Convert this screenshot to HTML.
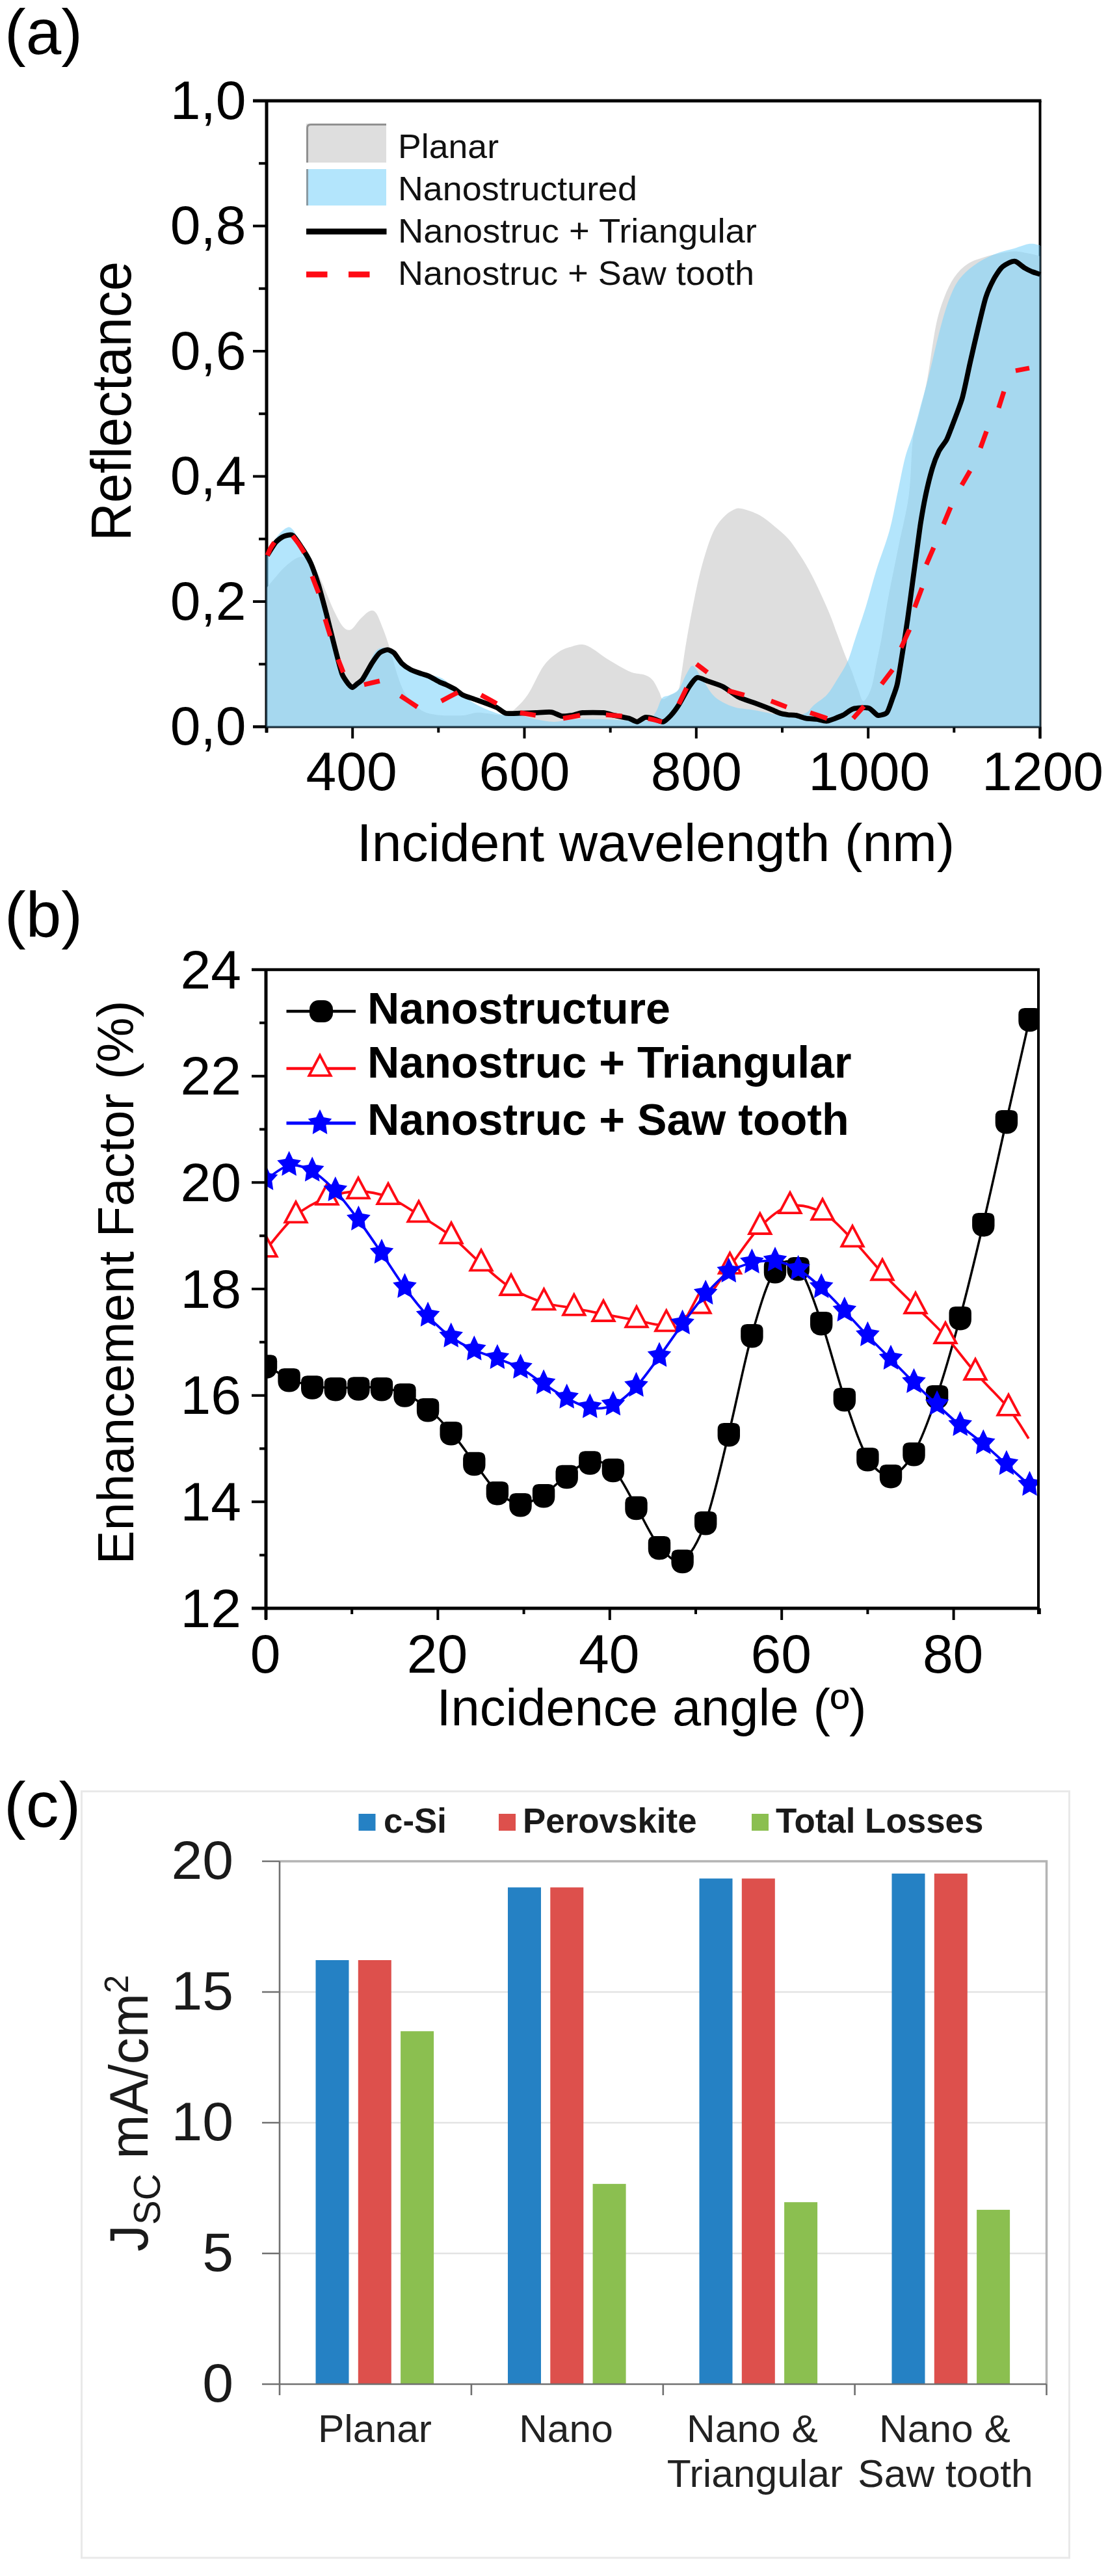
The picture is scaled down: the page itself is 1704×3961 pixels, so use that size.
<!DOCTYPE html>
<html lang="en">
<head>
<meta charset="utf-8">
<title>Figure: reflectance, enhancement factor and Jsc</title>
<style>
html,body{margin:0;padding:0;background:#fff;}
body{width:1704px;height:3961px;overflow:hidden;}
svg{display:block;font-family:"Liberation Sans",sans-serif;}
</style>
</head>
<body>
<svg width="1704" height="3961" viewBox="0 0 1704 3961">
<rect width="1704" height="3961" fill="#fff"/>
<g id="chart-a">
<clipPath id="clipA"><rect x="410" y="155" width="1189.5" height="963.5"/></clipPath>
<path d="M389 155H1601.5" stroke="#000" stroke-width="5" fill="none"/>
<path d="M410 155V1126.5" stroke="#000" stroke-width="5" fill="none"/>
<path d="M1599.5 155V1135.5" stroke="#000" stroke-width="4" fill="none"/>
<path d="M389 1117.5H1599.5" stroke="#000" stroke-width="4" fill="none"/>
<path d="M389 1117.5H410M398 1021.2H410M389 925H410M398 828.8H410M389 732.5H410M398 636.2H410M389 540H410M398 443.8H410M389 347.5H410M398 251.2H410M389 155H410M410 1117.5V1126.5M542.2 1117.5V1135.5M674.3 1117.5V1126.5M806.5 1117.5V1135.5M938.7 1117.5V1126.5M1070.8 1117.5V1135.5M1203 1117.5V1126.5M1335.2 1117.5V1135.5M1467.3 1117.5V1126.5M1599.5 1117.5V1135.5" stroke="#000" stroke-width="4" fill="none"/>
<g clip-path="url(#clipA)">
<path d="M410 904C412.3 901.2 419 892.8 424 887.2C429 881.5 434 875 440 870C446 864.9 454 858.1 460 856.8C466 855.4 471 857.4 476 862C481 866.5 485.6 875.6 490 884C494.3 892.3 498 902.6 502 911.9C506 921.3 509.6 931.3 514 939.9C518.3 948.6 523.6 959.3 527.9 963.9C532.3 968.6 535.6 969.9 539.9 967.9C544.3 965.9 549.3 956.6 553.9 951.9C558.6 947.3 563.9 941.6 567.9 939.9C571.9 938.3 574.6 937.9 577.9 941.9C581.3 945.9 584.6 955.6 587.9 963.9C591.3 972.3 593.9 979.3 597.9 991.9C601.9 1004.6 607.6 1027.2 611.9 1039.9C616.2 1052.6 619.2 1060.2 623.9 1067.9C628.6 1075.5 634.6 1081.2 639.9 1085.9C645.2 1090.5 649.2 1093.5 655.9 1095.9C662.6 1098.2 670.6 1099.2 679.9 1099.9C689.2 1100.5 703.2 1100.5 711.9 1099.9C720.5 1099.2 725.9 1096.4 731.9 1095.9C737.9 1095.3 740.5 1096 747.9 1096.7C755.2 1097.3 768.9 1100.7 775.8 1099.9C782.8 1099.1 783.8 1097.2 789.8 1091.9C795.8 1086.5 804.1 1079.2 811.8 1067.9C819.5 1056.6 828 1034.9 836 1023.9C844 1012.9 852.6 1006.9 860 1001.9C867.3 996.9 874 995.7 880 993.9C886 992.1 890.6 990.4 896 991.1C901.3 991.8 906 994.4 912 997.9C918 1001.4 925.3 1007.6 931.9 1011.9C938.6 1016.2 945.3 1020.2 951.9 1023.9C958.6 1027.6 965.3 1031.6 971.9 1033.9C978.6 1036.2 986.6 1035.9 991.9 1037.9C997.3 1039.9 1000.3 1041.6 1003.9 1045.9C1007.6 1050.2 1011.4 1059 1013.9 1063.9C1016.4 1068.8 1016.4 1074.1 1019.1 1075.1C1021.8 1076 1025.9 1071.9 1029.9 1069.5C1033.9 1067.1 1040.1 1066.3 1043.1 1060.7C1046.1 1055.1 1045.8 1048.7 1048 1035.9C1050.1 1023.1 1052.6 1003.2 1056 983.9C1059.3 964.6 1064 939.3 1068 919.9C1072 900.6 1075.3 884.6 1080 868C1084.6 851.3 1090.6 832 1096 820C1101.3 808 1106.6 802 1112 796C1117.3 790 1123.3 786.3 1127.9 784C1132.6 781.7 1133.3 780.7 1139.9 782C1146.6 783.3 1159.3 787.3 1167.9 792C1176.6 796.7 1184.6 804 1191.9 810C1199.3 816 1205.9 821.3 1211.9 828C1217.9 834.6 1222.6 842 1227.9 850C1233.2 858 1238.6 866.3 1243.9 876C1249.2 885.6 1254.6 896.6 1259.9 907.9C1265.2 919.3 1271.2 932.6 1275.9 943.9C1280.6 955.3 1283.9 965.3 1287.9 975.9C1291.9 986.6 1296.2 998.6 1299.9 1007.9C1303.5 1017.2 1306.5 1023.2 1309.9 1031.9C1313.2 1040.6 1316.9 1052.2 1319.9 1059.9C1322.9 1067.5 1324.5 1078.2 1327.9 1077.9C1331.2 1077.5 1336.6 1067.6 1339.9 1057.9C1343.3 1048.2 1345.3 1032.9 1347.9 1019.9C1350.6 1006.9 1352.9 996.6 1355.9 979.9C1358.9 963.3 1361.6 943.3 1365.9 919.9C1370.3 896.6 1376.6 866.6 1381.9 840C1387.3 813.3 1394.3 787.3 1397.9 760C1401.6 732.7 1401.3 696.6 1403.9 676C1406.6 655.3 1410.2 651.3 1413.9 636C1417.6 620.6 1421.7 606.3 1425.9 584C1430.1 561.7 1434.8 522.9 1439.1 501.9C1443.4 480.9 1447.1 470.6 1451.9 457.9C1456.7 445.3 1461.9 434.6 1467.9 426C1473.9 417.3 1480.6 411 1487.9 406C1495.2 401 1503.9 398.6 1511.9 396C1519.9 393.3 1527.9 391.6 1535.9 390C1543.9 388.4 1551.9 386.4 1559.9 386.4C1567.9 386.4 1577.2 388.7 1583.8 390C1590.5 391.2 1596.9 393.3 1599.5 394L1599.5 1117.5 L410 1117.5 Z" fill="#dedede"/>
<path d="M410 856C412.3 851.3 419 835.3 424 828C429 820.7 435.7 814.3 440 812C444.3 809.7 446 809.7 450 814C454 818.3 459.3 829.6 464 838C468.6 846.3 473.6 854 478 864C482.3 874 486 885 490 898C494 910.9 498 926.6 502 941.9C506 957.3 510 974.6 514 989.9C518 1005.2 521.6 1022.6 525.9 1033.9C530.3 1045.2 534.3 1057.6 539.9 1057.9C545.6 1058.2 553.9 1044.9 559.9 1035.9C565.9 1026.9 571.3 1010.6 575.9 1003.9C580.6 997.2 583.9 996.6 587.9 995.9C591.9 995.2 595.3 995.9 599.9 999.9C604.6 1003.9 610.6 1015.1 615.9 1019.9C621.2 1024.7 626.6 1026.2 631.9 1028.7C637.2 1031.2 639.9 1032.7 647.9 1035.1C655.9 1037.5 670.6 1038.3 679.9 1043.1C689.2 1047.9 693.9 1056.6 703.9 1063.9C713.9 1071.2 727.9 1081.1 739.9 1087.1C751.9 1093.1 765.9 1097.7 775.8 1099.9C785.8 1102 791.8 1098.9 799.8 1099.9C807.9 1100.9 815.3 1104.2 824 1105.9C832.7 1107.5 842.6 1109.9 852 1109.9C861.3 1109.9 867.3 1106.5 880 1105.9C892.6 1105.2 909.3 1105.5 927.9 1105.9C946.6 1106.2 978.6 1109.5 991.9 1107.9C1005.3 1106.2 1003.6 1101.5 1007.9 1095.9C1012.2 1090.2 1014.2 1078.4 1017.9 1073.9C1021.6 1069.4 1025.6 1071 1029.9 1068.7C1034.2 1066.4 1039.6 1065.4 1043.9 1059.9C1048.2 1054.4 1052.2 1041.9 1055.9 1035.9C1059.6 1029.9 1061.9 1022.6 1065.9 1023.9C1069.9 1025.2 1074.9 1036.6 1079.9 1043.9C1084.9 1051.2 1090.6 1061.9 1095.9 1067.9C1101.2 1073.9 1105.9 1076.5 1111.9 1079.9C1117.9 1083.2 1123.9 1085.9 1131.9 1087.9C1139.9 1089.9 1148.5 1089.9 1159.9 1091.9C1171.2 1093.9 1189.8 1098.2 1199.8 1099.9C1209.9 1101.5 1213.3 1102.5 1220 1101.9C1226.7 1101.2 1234.7 1098.9 1240 1095.9C1245.3 1092.9 1246.6 1088.5 1252 1083.9C1257.3 1079.2 1266 1074.5 1272 1067.9C1278 1061.2 1282.6 1052.6 1288 1043.9C1293.3 1035.2 1299.3 1026.6 1304 1015.9C1308.6 1005.2 1311.3 993.9 1316 979.9C1320.6 965.9 1326.6 949.3 1331.9 931.9C1337.3 914.6 1341.9 895.3 1347.9 876C1353.9 856.6 1362.6 835.2 1367.9 815.9C1373.3 796.6 1375.9 778.6 1379.9 759.9C1383.9 741.3 1387.9 719.3 1391.9 703.9C1395.9 688.6 1399.9 681.3 1403.9 668C1407.9 654.6 1411.9 638.6 1415.9 624C1419.9 609.3 1422.6 601 1427.9 580C1433.2 559 1441.9 519.6 1447.9 497.9C1453.9 476.3 1458.6 462.3 1463.9 450C1469.2 437.6 1473.2 431.6 1479.9 424C1486.6 416.3 1495.2 409.6 1503.9 404C1512.5 398.3 1522.5 393.6 1531.9 390C1541.2 386.3 1551.2 384.5 1559.9 382C1568.5 379.4 1577.2 375.6 1583.8 374.8C1590.5 374 1596.9 376.8 1599.5 377.2L1599.5 1117.5 L410 1117.5 Z" fill="#80d3fa" fill-opacity="0.6"/>
</g>
<path d="M410 854V1117.5" stroke="#1c3a4a" stroke-width="2.5" fill="none" opacity="0.85"/>
<path d="M410 1117.5H1599.5" stroke="#1c3a4a" stroke-width="2.5" fill="none" opacity="0.85"/>
<path d="M1599.5 378V1117.5" stroke="#1c3a4a" stroke-width="2.5" fill="none" opacity="0.85"/>
<path d="M411 854C412.4 851.8 421.3 837.1 424 834C426.7 830.9 433.2 825.9 436 824.8C438.8 823.6 447 821.3 450 823.2C453 825 461 837.4 464 842C467 846.5 475.2 859.8 478 866C480.7 872.1 487.4 891.6 490 900C492.5 908.3 499.4 934.1 502 943.9C504.5 953.7 511.4 982.1 514 991.9C516.5 1001.7 523.6 1029.5 525.9 1035.9C528.3 1042.3 534.2 1049.6 535.9 1051.9C537.7 1054.2 540.6 1057.1 541.9 1057.1C543.3 1057.1 547 1053.3 548.7 1051.9C550.4 1050.5 555.5 1047.3 557.9 1043.9C560.4 1040.5 569.2 1024.2 571.9 1019.9C574.7 1015.6 581.4 1006.1 583.9 1003.9C586.5 1001.7 593.6 999.1 595.9 999.1C598.3 999.1 603.6 1001.7 605.9 1003.9C608.3 1006.1 615.1 1017.1 617.9 1019.9C620.7 1022.7 628.7 1028.2 631.9 1029.9C635.1 1031.6 644.9 1034.8 647.9 1035.9C650.9 1037 656.9 1038.5 659.9 1039.9C662.9 1041.3 673.1 1047.3 675.9 1048.7C678.7 1050.1 683.3 1051.5 685.9 1052.7C688.4 1053.9 697.1 1058.2 699.9 1059.9C702.7 1061.6 708.5 1067 711.9 1068.7C715.3 1070.4 727.6 1074.3 731.9 1075.9C736.1 1077.4 748.4 1081.8 751.9 1083.1C755.3 1084.4 761.1 1086.4 763.9 1087.9C766.6 1089.3 774 1095.7 777.8 1096.7C781.7 1097.6 794.9 1096.8 799.8 1096.7C804.8 1096.6 818.9 1096 824 1095.9C829.1 1095.7 843.7 1094.5 848 1095.1C852.2 1095.6 860.6 1100.6 864 1101.1C867.4 1101.6 876.6 1100.4 880 1099.9C883.4 1099.3 890.8 1096.3 896 1095.9C901.1 1095.4 922.8 1095.4 927.9 1095.9C933.1 1096.3 940.5 1099.1 943.9 1099.9C947.4 1100.6 957.4 1102.6 959.9 1103.1C962.5 1103.6 965.8 1103.9 967.9 1104.7C970.1 1105.4 977.4 1110 979.9 1109.9C982.5 1109.7 989.4 1103.6 991.9 1103.1C994.5 1102.5 1000.9 1103.9 1003.9 1104.7C1006.9 1105.4 1016.9 1110.4 1019.9 1109.9C1022.9 1109.4 1029.3 1102.6 1031.9 1099.9C1034.5 1097.1 1040.9 1088.6 1043.9 1083.9C1046.9 1079.2 1056.9 1060.4 1059.9 1055.9C1062.9 1051.4 1068.9 1042.8 1071.9 1041.9C1074.9 1041 1083.6 1045.6 1087.9 1047.1C1092.1 1048.6 1106.8 1053.2 1111.9 1055.9C1117 1058.5 1130.7 1069.2 1135.9 1071.9C1141 1074.5 1154.7 1078.8 1159.9 1080.7C1165 1082.6 1179.6 1088.2 1183.8 1089.9C1188.1 1091.6 1196.8 1095.7 1199.8 1096.7C1202.8 1097.7 1209.4 1098.7 1212 1099.1C1214.6 1099.4 1221 1099.3 1224 1099.9C1227 1100.5 1236.6 1104 1240 1104.7C1243.4 1105.3 1252.6 1105.4 1256 1105.9C1259.4 1106.3 1267.7 1109.3 1272 1108.7C1276.2 1108 1291.7 1101.9 1296 1099.9C1300.2 1097.9 1307.7 1091.1 1312 1089.9C1316.2 1088.7 1331.9 1087.6 1335.9 1088.7C1340 1089.7 1347 1099.1 1349.9 1099.9C1352.9 1100.6 1361.6 1098.4 1363.9 1095.9C1366.3 1093.3 1370.2 1080.6 1371.9 1075.9C1373.6 1071.2 1378.2 1059.6 1379.9 1051.9C1381.6 1044.2 1386.2 1014.6 1387.9 1003.9C1389.6 993.2 1394.2 963.9 1395.9 951.9C1397.6 940 1402.4 903.1 1403.9 892C1405.4 880.9 1408.6 857.3 1409.9 847.9C1411.2 838.5 1414.4 813.3 1415.9 803.9C1417.4 794.5 1422 768.9 1423.9 759.9C1425.8 751 1431.8 727 1433.9 719.9C1436 712.9 1441.6 698.6 1443.9 693.9C1446.2 689.3 1453.8 680 1455.9 676C1458 671.9 1461.3 662.8 1463.9 656C1466.5 649.1 1476.9 622.4 1479.9 612C1482.9 601.5 1489.3 569.2 1491.9 557.9C1494.4 546.6 1501.3 516.6 1503.9 505.9C1506.4 495.3 1513.3 466.1 1515.9 457.9C1518.4 449.8 1525.3 434.9 1527.9 430C1530.4 425.1 1537.3 414.7 1539.9 412C1542.4 409.2 1549.5 405 1551.9 404C1554.2 402.9 1559.3 401.1 1561.9 402C1564.4 402.8 1573.1 410.3 1575.8 412C1578.6 413.7 1585.3 416.9 1587.8 418C1590.4 419 1598.6 421.5 1599.8 422" stroke="#000" stroke-width="7.8" fill="none" stroke-linejoin="round"/>
<path d="M411.2 854C412 852.2 414.2 846.5 416 843.2C417.8 839.8 421 835.5 422 834M450 824C451.5 826 456.2 831.6 459.2 836C462.2 840.3 466.5 847.6 468 850M480 886C481.6 890.3 488.3 907.6 490 911.9M500 951.9C501.3 956.3 506.6 973.6 508 977.9M520 1013.9C521.3 1017.2 526.6 1030.6 527.9 1033.9M559.9 1052.7C563.9 1051.8 579.9 1048 583.9 1047.1M615.9 1069.9C620.2 1072.7 637.6 1084.2 641.9 1087.1M678.7 1077.9C682.9 1075.7 699.7 1066.9 703.9 1064.7M739.9 1068.7C743.9 1070.9 759.9 1079.7 763.9 1081.9M799.8 1095.9C803.8 1096.5 819.8 1099.2 823.8 1099.9M866 1104.7C870.3 1103.9 887.6 1100.7 892 1099.9M931.9 1099.1C936.1 1099.4 952.6 1100.7 956.7 1101.1M996.7 1104.7C1000.3 1105.5 1014.4 1109 1017.9 1109.9M1043.9 1082.7C1045.9 1078.5 1053.9 1062 1055.9 1057.9M1071.1 1021.1C1073.9 1023.2 1085.1 1031.8 1087.9 1033.9M1119.1 1061.9C1123.3 1063 1140.4 1067.6 1144.7 1068.7M1185.8 1077.9C1189.8 1079.4 1205.8 1085.5 1209.8 1087.1M1246 1095.9C1250.3 1097.3 1267.6 1103.2 1272 1104.7M1312 1104.7C1314.8 1101.5 1325.9 1089 1328.7 1085.9M1355.9 1051.9C1358.7 1048.2 1369.9 1033.6 1372.7 1029.9M1385.9 995.9C1388.1 991.2 1396.6 972.6 1398.7 967.9M1406.7 933.9C1408.6 928.9 1416 908.9 1417.9 904M1424.7 868C1426.6 863.6 1434 846.3 1435.9 842M1451.1 806C1452.9 801.7 1460.1 784.3 1461.9 780M1479.1 745.9C1481.2 742.3 1489.8 727.6 1491.9 723.9M1507.9 688.7C1509.4 684.5 1515.5 667.4 1517.1 663.2M1535.9 627.2C1537.2 623 1542.5 606.2 1543.9 602M1561.9 570C1565.4 569.3 1579.5 566.7 1583 566" stroke="#ff0a14" stroke-width="7.3" fill="none"/>
<rect x="471" y="190" width="123" height="60" fill="#dedede"/>
<path d="M472.5 250V197Q472.5 191.5 478 191.5H594" stroke="#909090" stroke-width="3" fill="none"/>
<rect x="471" y="260" width="123" height="56" fill="#b3e5fc"/>
<path d="M472.5 260V316" stroke="#8a9aa2" stroke-width="3" fill="none"/>
<path d="M471 356H594.5" stroke="#000" stroke-width="9"/>
<path d="M471 422H503.5M536 422H568.5" stroke="#ff0a14" stroke-width="9"/>
<g font-size="52" fill="#111">
<text x="612" y="242.5" textLength="155" lengthAdjust="spacingAndGlyphs">Planar</text>
<text x="612" y="308" textLength="368" lengthAdjust="spacingAndGlyphs">Nanostructured</text>
<text x="612" y="373.3" textLength="552" lengthAdjust="spacingAndGlyphs">Nanostruc + Triangular</text>
<text x="612" y="438.3" textLength="548" lengthAdjust="spacingAndGlyphs">Nanostruc + Saw tooth</text>
</g>
<g font-size="84" fill="#000" text-anchor="end">
<text x="378.5" y="1145">0,0</text>
<text x="378.5" y="952.5">0,2</text>
<text x="378.5" y="760">0,4</text>
<text x="378.5" y="567.5">0,6</text>
<text x="378.5" y="375">0,8</text>
<text x="378.5" y="182.5">1,0</text>
</g>
<g font-size="84" fill="#000" text-anchor="middle">
<text x="540.7" y="1214.5">400</text>
<text x="806.5" y="1214.5">600</text>
<text x="1070.8" y="1214.5">800</text>
<text x="1336.7" y="1214.5">1000</text>
<text x="1603.5" y="1214.5">1200</text>
</g>
<text transform="translate(201 617) rotate(-90)" font-size="87" text-anchor="middle" fill="#000" textLength="430" lengthAdjust="spacingAndGlyphs">Reflectance</text>
<text x="1008.5" y="1323.5" font-size="82.3" text-anchor="middle" fill="#000">Incident wavelength (nm)</text>
<text x="7" y="82.5" font-size="98" fill="#000">(a)</text>
</g>
<g id="chart-b">
<path d="M387 1491H1599" stroke="#000" stroke-width="4.4" fill="none"/>
<path d="M387 2473H1597" stroke="#000" stroke-width="5" fill="none"/>
<path d="M387 2473H409M399 2391.2H409M387 2309.3H409M399 2227.5H409M387 2145.7H409M399 2063.8H409M387 1982H409M399 1900.2H409M387 1818.3H409M399 1736.5H409M387 1654.7H409M399 1572.8H409M387 1491H409M409 2473V2491M541.2 2473V2482M673.4 2473V2491M805.6 2473V2482M937.8 2473V2491M1070 2473V2482M1202.2 2473V2491M1334.4 2473V2482M1466.6 2473V2491M1598.8 2473V2482" stroke="#000" stroke-width="4" fill="none"/>
<clipPath id="clipB"><rect x="407" y="1491" width="1190" height="982"/></clipPath>
<defs>
<path id="mk" d="M-17.2 -6Q-17.2 -16 -7.5 -16H7.5Q17.2 -16 17.2 -6V4C17.2 14.5 10 20.5 0 20.5C-10 20.5 -17.2 14.5 -17.2 4Z" fill="#000"/>
<rect id="mkl" x="-18" y="-17" width="36" height="34" rx="14" ry="14" fill="#000"/>
<path id="tr" d="M0 -20.8L16.6 10.4H-16.6Z" fill="#fff" stroke="#ff0a14" stroke-width="3.9" stroke-linejoin="miter"/>
<path id="st" d="M0 -22.3L5.8 -9.9L18.3 -7.7L9.3 2.1L11.3 15.9L0 9.6L-11.3 15.9L-9.3 2.1L-18.3 -7.7L-5.8 -9.9Z" fill="#0000ff"/>
</defs>
<g clip-path="url(#clipB)">
<path d="M409 2099.2C414.9 2102.7 432.7 2114.7 444.6 2120C456.5 2125.3 468.3 2128.9 480.2 2131.2C492 2133.5 503.9 2133.7 515.8 2134C527.6 2134.3 539.5 2133.2 551.4 2133.2C563.2 2133.2 575.1 2132.3 587 2134C598.8 2135.7 610.7 2137.9 622.5 2143.2C634.4 2148.5 646.3 2156.2 658.1 2166C670 2175.8 681.9 2188.2 693.7 2202C705.6 2215.8 717.5 2233.4 729.3 2248.7C741.2 2264 753 2283.3 764.9 2293.9C776.8 2304.5 788.6 2311.3 800.5 2312C812.4 2312.7 824.2 2305.2 836.1 2298C848 2290.8 859.8 2277.3 871.7 2268.8C883.5 2260.3 895.4 2248.9 907.3 2247.2C919.1 2245.5 931 2247.2 942.9 2258.8C954.7 2270.4 966.6 2296.8 978.5 2316.7C990.3 2336.5 1002.2 2364.2 1014 2377.9C1025.9 2391.6 1037.8 2405 1049.6 2398.7C1061.5 2392.4 1073.4 2372.3 1085.2 2339.9C1097.1 2307.5 1109 2252 1120.8 2204C1132.7 2156 1144.5 2093.8 1156.4 2052C1168.3 2010.2 1180.1 1970.2 1192 1953C1203.9 1935.8 1215.7 1935.7 1227.6 1949C1239.5 1962.3 1251.3 1999.5 1263.2 2033C1275 2066.5 1286.9 2115.2 1298.8 2150C1310.6 2184.8 1322.5 2222.3 1334.4 2242C1346.2 2261.7 1358.1 2269.3 1370 2268C1381.8 2266.7 1393.7 2254.3 1405.5 2234C1417.4 2213.7 1429.3 2180.8 1441.1 2146C1453 2111.2 1464.9 2069.2 1476.7 2025C1488.6 1980.8 1500.5 1931.3 1512.3 1881C1524.2 1830.7 1536 1775.5 1547.9 1723C1559.8 1670.5 1577.6 1592.2 1583.5 1566" stroke="#000" stroke-width="3.5" fill="none"/>
<use href="#mk" x="409" y="2099.2"/>
<use href="#mk" x="444.6" y="2120"/>
<use href="#mk" x="480.2" y="2131.2"/>
<use href="#mk" x="515.8" y="2134"/>
<use href="#mk" x="551.4" y="2133.2"/>
<use href="#mk" x="587" y="2134"/>
<use href="#mk" x="622.5" y="2143.2"/>
<use href="#mk" x="658.1" y="2166"/>
<use href="#mk" x="693.7" y="2202"/>
<use href="#mk" x="729.3" y="2248.7"/>
<use href="#mk" x="764.9" y="2293.9"/>
<use href="#mk" x="800.5" y="2312"/>
<use href="#mk" x="836.1" y="2298"/>
<use href="#mk" x="871.7" y="2268.8"/>
<use href="#mk" x="907.3" y="2247.2"/>
<use href="#mk" x="942.9" y="2258.8"/>
<use href="#mk" x="978.5" y="2316.7"/>
<use href="#mk" x="1014" y="2377.9"/>
<use href="#mk" x="1049.6" y="2398.7"/>
<use href="#mk" x="1085.2" y="2339.9"/>
<use href="#mk" x="1120.8" y="2204"/>
<use href="#mk" x="1156.4" y="2052"/>
<use href="#mk" x="1192" y="1953"/>
<use href="#mk" x="1227.6" y="1949"/>
<use href="#mk" x="1263.2" y="2033"/>
<use href="#mk" x="1298.8" y="2150"/>
<use href="#mk" x="1334.4" y="2242"/>
<use href="#mk" x="1370" y="2268"/>
<use href="#mk" x="1405.5" y="2234"/>
<use href="#mk" x="1441.1" y="2146"/>
<use href="#mk" x="1476.7" y="2025"/>
<use href="#mk" x="1512.3" y="1881"/>
<use href="#mk" x="1547.9" y="1723"/>
<use href="#mk" x="1583.5" y="1566"/>
<path d="M409 1921.5C416.7 1912.8 439.3 1882.3 455 1869C470.7 1855.7 487 1847.7 503 1841.5C519 1835.3 535.3 1832.1 551 1832C566.7 1831.9 581.5 1834.7 597 1840.7C612.5 1846.7 627.8 1858 644 1868C660.2 1878 678 1888.5 694 1901C710 1913.5 724.7 1929.7 740 1943C755.3 1956.3 769.9 1970.6 786 1980.6C802.1 1990.6 820.4 1997.8 836.5 2003C852.6 2008.2 867.5 2008.6 882.8 2011.5C898 2014.4 912 2017.5 928 2020.6C944 2023.7 962.9 2027.4 979 2030C995.1 2032.6 1008.6 2039.6 1024.8 2036C1041 2032.4 1059.7 2023 1076 2008.3C1092.3 1993.5 1107 1967.8 1122.5 1947.5C1138 1927.2 1153.4 1902.1 1168.8 1886.6C1184.2 1871.1 1199 1858.3 1215 1854.7C1231 1851.1 1249 1856.2 1265 1864.7C1281 1873.2 1295.7 1890.5 1311 1906C1326.3 1921.5 1340.8 1940.3 1357 1957.4C1373.2 1974.5 1391.8 1992.4 1408 2008.6C1424.2 2024.8 1438.7 2037.6 1454 2054.6C1469.3 2071.6 1483.8 2092.1 1500 2110.6C1516.2 2129.1 1537.3 2148.6 1551 2165.5C1564.7 2182.4 1576.8 2204.2 1582 2212" stroke="#ff0a14" stroke-width="3.8" fill="none"/>
<use href="#tr" x="409" y="1921.5"/>
<use href="#tr" x="455" y="1869"/>
<use href="#tr" x="503" y="1841.5"/>
<use href="#tr" x="551" y="1832"/>
<use href="#tr" x="597" y="1840.7"/>
<use href="#tr" x="644" y="1868"/>
<use href="#tr" x="694" y="1901"/>
<use href="#tr" x="740" y="1943"/>
<use href="#tr" x="786" y="1980.6"/>
<use href="#tr" x="836.5" y="2003"/>
<use href="#tr" x="882.8" y="2011.5"/>
<use href="#tr" x="928" y="2020.6"/>
<use href="#tr" x="979" y="2030"/>
<use href="#tr" x="1024.8" y="2036"/>
<use href="#tr" x="1076" y="2008.3"/>
<use href="#tr" x="1122.5" y="1947.5"/>
<use href="#tr" x="1168.8" y="1886.6"/>
<use href="#tr" x="1215" y="1854.7"/>
<use href="#tr" x="1265" y="1864.7"/>
<use href="#tr" x="1311" y="1906"/>
<use href="#tr" x="1357" y="1957.4"/>
<use href="#tr" x="1408" y="2008.6"/>
<use href="#tr" x="1454" y="2054.6"/>
<use href="#tr" x="1500" y="2110.6"/>
<use href="#tr" x="1551" y="2165.5"/>
<path d="M409 1814C414.9 1810.3 432.7 1794.2 444.6 1792C456.5 1789.8 468.3 1794.3 480.2 1800.8C492 1807.3 503.9 1818.7 515.8 1831.2C527.6 1843.7 539.5 1860 551.4 1876C563.2 1892 575.1 1909.8 587 1927.1C598.8 1944.4 610.7 1963.8 622.5 1979.9C634.4 1996 646.3 2011.2 658.1 2023.9C670 2036.6 681.9 2047.2 693.7 2055.9C705.6 2064.6 717.5 2070.4 729.3 2075.9C741.2 2081.4 753 2084.3 764.9 2089C776.8 2093.7 788.6 2097.4 800.5 2103.9C812.4 2110.4 824.2 2120.2 836.1 2127.9C848 2135.6 859.8 2143.8 871.7 2149.9C883.5 2156 895.4 2162.9 907.3 2164.7C919.1 2166.5 931 2166.2 942.9 2160.7C954.7 2155.2 966.6 2144.4 978.5 2131.9C990.3 2119.4 1002.2 2101.9 1014 2085.9C1025.9 2069.9 1037.8 2051.9 1049.6 2035.9C1061.5 2019.9 1073.4 2003.3 1085.2 1990C1097.1 1976.7 1109 1964 1120.8 1956C1132.7 1948 1144.5 1944.8 1156.4 1942C1168.3 1939.2 1180.1 1937.5 1192 1939.2C1203.9 1940.9 1215.7 1945.2 1227.6 1952C1239.5 1958.8 1251.3 1969.3 1263.2 1980C1275 1990.7 1286.9 2003.7 1298.8 2016C1310.6 2028.3 1322.5 2041.7 1334.4 2054C1346.2 2066.3 1358.1 2078 1370 2090C1381.8 2102 1393.7 2114.3 1405.5 2126C1417.4 2137.7 1429.3 2149 1441.1 2160C1453 2171 1464.9 2182 1476.7 2192C1488.6 2202 1500.5 2210 1512.3 2220C1524.2 2230 1536 2241.3 1547.9 2252C1559.8 2262.7 1577.6 2278.7 1583.5 2284" stroke="#0000ff" stroke-width="3.8" fill="none"/>
<use href="#st" x="409" y="1814"/>
<use href="#st" x="444.6" y="1792"/>
<use href="#st" x="480.2" y="1800.8"/>
<use href="#st" x="515.8" y="1831.2"/>
<use href="#st" x="551.4" y="1876"/>
<use href="#st" x="587" y="1927.1"/>
<use href="#st" x="622.5" y="1979.9"/>
<use href="#st" x="658.1" y="2023.9"/>
<use href="#st" x="693.7" y="2055.9"/>
<use href="#st" x="729.3" y="2075.9"/>
<use href="#st" x="764.9" y="2089"/>
<use href="#st" x="800.5" y="2103.9"/>
<use href="#st" x="836.1" y="2127.9"/>
<use href="#st" x="871.7" y="2149.9"/>
<use href="#st" x="907.3" y="2164.7"/>
<use href="#st" x="942.9" y="2160.7"/>
<use href="#st" x="978.5" y="2131.9"/>
<use href="#st" x="1014" y="2085.9"/>
<use href="#st" x="1049.6" y="2035.9"/>
<use href="#st" x="1085.2" y="1990"/>
<use href="#st" x="1120.8" y="1956"/>
<use href="#st" x="1156.4" y="1942"/>
<use href="#st" x="1192" y="1939.2"/>
<use href="#st" x="1227.6" y="1952"/>
<use href="#st" x="1263.2" y="1980"/>
<use href="#st" x="1298.8" y="2016"/>
<use href="#st" x="1334.4" y="2054"/>
<use href="#st" x="1370" y="2090"/>
<use href="#st" x="1405.5" y="2126"/>
<use href="#st" x="1441.1" y="2160"/>
<use href="#st" x="1476.7" y="2192"/>
<use href="#st" x="1512.3" y="2220"/>
<use href="#st" x="1547.9" y="2252"/>
<use href="#st" x="1583.5" y="2284"/>
</g>
<path d="M409 1491V2490" stroke="#000" stroke-width="5" fill="none"/>
<path d="M1597 1491V2482" stroke="#000" stroke-width="4" fill="none"/>
<path d="M440.5 1555H547" stroke="#000" stroke-width="4.5"/><use href="#mkl" x="494" y="1555"/>
<path d="M440.5 1643H547" stroke="#ff0a14" stroke-width="4.5"/><use href="#tr" x="492" y="1643.5"/>
<path d="M440.5 1727H547" stroke="#0000ff" stroke-width="5"/><use href="#st" x="492" y="1728"/>
<g font-size="68.2" font-weight="bold" fill="#000">
<text x="565" y="1573.5">Nanostructure</text>
<text x="565" y="1656.5">Nanostruc + Triangular</text>
<text x="565" y="1745">Nanostruc + Saw tooth</text>
</g>
<g font-size="84" fill="#000" text-anchor="end">
<text x="371" y="2501.5">12</text>
<text x="371" y="2337.8">14</text>
<text x="371" y="2174.2">16</text>
<text x="371" y="2010.5">18</text>
<text x="371" y="1846.8">20</text>
<text x="371" y="1683.2">22</text>
<text x="371" y="1519.5">24</text>
</g>
<g font-size="84" fill="#000" text-anchor="middle">
<text x="408" y="2572">0</text>
<text x="672.4" y="2572">20</text>
<text x="936.8" y="2572">40</text>
<text x="1201.2" y="2572">60</text>
<text x="1465.6" y="2572">80</text>
</g>
<text transform="translate(205 1972) rotate(-90)" font-size="78" text-anchor="middle" fill="#000">Enhancement Factor (%)</text>
<text x="1002" y="2652.5" font-size="79.5" text-anchor="middle" fill="#000">Incidence angle (º)</text>
<text x="7" y="1439.5" font-size="98" fill="#000">(b)</text>
</g>
<g id="chart-c">
<rect x="125.5" y="2754.5" width="1519" height="1178.5" fill="#fff" stroke="#e9e9e9" stroke-width="3"/>
<path d="M430 3465H1609.5" stroke="#e3e3e3" stroke-width="2.5"/>
<path d="M430 3264H1609.5" stroke="#e3e3e3" stroke-width="2.5"/>
<path d="M430 3063H1609.5" stroke="#e3e3e3" stroke-width="2.5"/>
<rect x="485.5" y="3014" width="51" height="651" fill="#2581c4"/>
<rect x="550.8" y="3014" width="51" height="651" fill="#dd504c"/>
<rect x="616.1" y="3123.3" width="51" height="541.7" fill="#8bbf50"/>
<rect x="781" y="2902.2" width="51" height="762.8" fill="#2581c4"/>
<rect x="846.3" y="2902.2" width="51" height="762.8" fill="#dd504c"/>
<rect x="911.6" y="3358.1" width="51" height="306.9" fill="#8bbf50"/>
<rect x="1075.5" y="2888.5" width="51" height="776.5" fill="#2581c4"/>
<rect x="1140.8" y="2888.5" width="51" height="776.5" fill="#dd504c"/>
<rect x="1206.1" y="3386.2" width="51" height="278.8" fill="#8bbf50"/>
<rect x="1371.5" y="2880.9" width="51" height="784.1" fill="#2581c4"/>
<rect x="1436.8" y="2880.9" width="51" height="784.1" fill="#dd504c"/>
<rect x="1502.1" y="3397.9" width="51" height="267.1" fill="#8bbf50"/>
<path d="M430 2862H1609.5V3666" stroke="#b4b4b4" stroke-width="3.5" fill="none"/>
<path d="M430 2862V3683" stroke="#707070" stroke-width="2.6" fill="none"/>
<path d="M403 3666H1609.5" stroke="#707070" stroke-width="2.6" fill="none"/>
<path d="M403 3465H430M403 3264H430M403 3063H430M403 2862H430M724.9 3666V3683M1019.8 3666V3683M1314.6 3666V3683M1609.5 3666V3683" stroke="#707070" stroke-width="2.6" fill="none"/>
<rect x="551.5" y="2789" width="26" height="26" fill="#2581c4"/>
<rect x="767" y="2789" width="26" height="26" fill="#dd504c"/>
<rect x="1156" y="2789" width="26" height="26" fill="#8bbf50"/>
<g font-size="52.9" font-weight="bold" fill="#1a1a1a">
<text x="590" y="2817.5">c-Si</text>
<text x="804" y="2817.5">Perovskite</text>
<text x="1193" y="2817.5">Total Losses</text>
</g>
<g font-size="83" fill="#1a1a1a" text-anchor="end">
<text x="359" y="3692.5" textLength="47.8" lengthAdjust="spacingAndGlyphs">0</text>
<text x="359" y="3491.5" textLength="47.8" lengthAdjust="spacingAndGlyphs">5</text>
<text x="359" y="3290.5" textLength="95.5" lengthAdjust="spacingAndGlyphs">10</text>
<text x="359" y="3089.5" textLength="95.5" lengthAdjust="spacingAndGlyphs">15</text>
<text x="359" y="2888.5" textLength="95.5" lengthAdjust="spacingAndGlyphs">20</text>
</g>
<g font-size="58.8" fill="#222" text-anchor="middle">
<text transform="translate(576.5 3755) scale(1.03 1)">Planar</text>
<text transform="translate(870.5 3755) scale(1.03 1)">Nano</text>
<text transform="translate(1157 3755) scale(1.03 1)">Nano &amp;</text>
<text transform="translate(1161 3823.5) scale(1.03 1)">Triangular</text>
<text transform="translate(1453 3755) scale(1.03 1)">Nano &amp;</text>
<text transform="translate(1454 3823.5) scale(1.03 1)">Saw tooth</text>
</g>
<text transform="translate(227 3462) rotate(-90) scale(0.975 1)" font-size="84" fill="#1a1a1a">J<tspan font-size="58" dy="19">SC</tspan><tspan dy="-19"> mA/cm</tspan><tspan font-size="52" dy="-30">2</tspan></text>
<text transform="translate(6 2809) scale(1.035 1)" font-size="98" fill="#000">(c)</text>
</g>
</svg>
</body>
</html>
